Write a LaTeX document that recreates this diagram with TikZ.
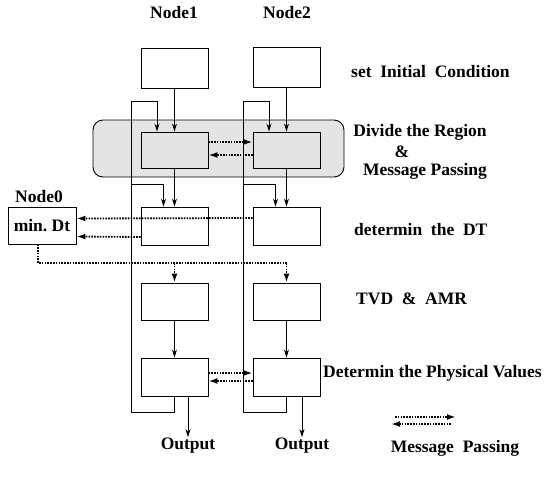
\documentclass[tikz,border=0pt]{standalone}
\usepackage{fontspec}
\setmainfont{Liberation Serif}
\usepackage{xcolor}
\usepackage{tikz}
\usetikzlibrary{arrows.meta, positioning, calc}
\definecolor{cinza}{RGB}{228,228,228}

\begin{document}
\begin{tikzpicture}[x=1pt, y=-1pt,
    caixa/.style={draw=black, fill=white, minimum width=67pt, minimum height=38pt, inner sep=0pt, line width=0.9pt},
    caixaC/.style={caixa, fill=cinza},
    rotulo/.style={font=\bfseries\fontsize{17.5}{20}\selectfont, inner sep=1pt},
    linha/.style={line width=0.9pt, black},
    seta/.style={linha, -{Stealth[length=8pt, width=5pt]}},
    msglinha/.style={line width=1.8pt, black, dash pattern=on 1.6pt off 1.2pt},
    msg/.style={msglinha, -{Latex[length=9pt, width=6pt]}}
  ]
    \useasboundingbox (0,0) rectangle (547,491);
    % regiao sombreada
    \draw[linha, fill=cinza, rounded corners=10pt] (93,120) rectangle (344,177);
    % cabecalhos
    \node[rotulo] (h1) at (174,13) {Node1};
    \node[rotulo] (h2) at (287,13) {Node2};
    % caixas da coluna 1
    \node[caixa, minimum height=40pt] (ini1) at (174.5,68) {};
    \node[caixaC, minimum height=36pt] (div1) at (174.5,150) {};
    \node[caixa] (dt1) at (174.5,226) {};
    \node[caixa, minimum height=37pt] (tvd1) at (174.5,301.5) {};
    \node[caixa] (fis1) at (174.5,377) {};
    % caixas da coluna 2
    \node[caixa, minimum height=40pt] (ini2) at (286.5,67) {};
    \node[caixaC, minimum height=36pt] (div2) at (286.5,150) {};
    \node[caixa] (dt2) at (286.5,226) {};
    \node[caixa, minimum height=37pt] (tvd2) at (286.5,301.5) {};
    \node[caixa] (fis2) at (286.5,377) {};
    % Node0
    \node[caixa, minimum width=68pt, minimum height=37pt, font=\bfseries\fontsize{17.5}{20}\selectfont] (n0) at (42,225.5) {min.~Dt};
    \node[rotulo] (h0) at (39,197) {Node0};
    % textos da direita
    \node[rotulo, anchor=west] (t1) at (350,72) {set\ \ Initial\ \ Condition};
    \node[rotulo] (t2a) at (420,132) {Divide the Region};
    \node[rotulo] (t2b) at (402,152) {\&};
    \node[rotulo] (t2c) at (425,171) {Message Passing};
    \node[rotulo, anchor=west] (t3) at (353,230) {determin\ \ the\ \ DT};
    \node[rotulo, anchor=west] (t4) at (355,299) {TVD\ \ \&\ \ AMR};
    \node[rotulo, anchor=west] (t5) at (322,373) {Determin the Physical Values};
    % saidas
    \node[rotulo] (out1) at (188,446) {Output};
    \node[rotulo] (out2) at (302,446) {Output};
    % fluxo vertical
    \draw[seta] (ini1) -- (div1);
    \draw[seta] (div1) -- (dt1);
    \draw[seta] (tvd1) -- (fis1);
    \draw[seta] (ini2) -- (div2);
    \draw[seta] (div2) -- (dt2);
    \draw[seta] (tvd2) -- (fis2);
    % lacos de volta
    \coordinate (lb1) at (131,412);
    \coordinate (lt1) at (131,101);
    \coordinate (lm1) at (131,184);
    \coordinate (lb2) at (243,412);
    \coordinate (lt2) at (243,101);
    \coordinate (lm2) at (243,184);
    \draw[seta] (fis1.south) |- (lb1) -- (lt1) -| ([xshift=-17.5pt]div1.north);
    \draw[seta] (lm1) -| ([xshift=-11pt]dt1.north);
    \draw[seta] (fis2.south) |- (lb2) -- (lt2) -| ([xshift=-17.5pt]div2.north);
    \draw[seta] (lm2) -| ([xshift=-11pt]dt2.north);
    \draw[seta] ([xshift=13.5pt]fis1.south) -- (out1.north);
    \draw[seta] ([xshift=15.5pt]fis2.south) -- (out2.north);
    % troca de mensagens
    \draw[msg] ([yshift=8pt]div1.east) -- ([yshift=8pt]div2.west);
    \draw[msg] ([yshift=-5pt]div2.west) -- ([yshift=-5pt]div1.east);
    \draw[msg] ([yshift=8pt]dt2.west) -- ([yshift=7pt]n0.east);
    \draw[msg] ([yshift=-11pt]dt1.west) -- ([yshift=-11pt]n0.east);
    \draw[msg] ([yshift=4pt]fis1.east) -- ([yshift=4pt]fis2.west);
    \draw[msg] ([yshift=-4pt]fis2.west) -- ([yshift=-4pt]fis1.east);
    \coordinate (dtj) at (286.5,263);
    \draw[msglinha] ([xshift=-4pt]n0.south) |- (dtj);
    \draw[msg] (dtj) -- (tvd2.north);
    \draw[msg] (tvd1.north |- dtj) -- (tvd1.north);
    % legenda
    \coordinate (la) at (395,417);
    \coordinate (lb) at (456,417);
    \coordinate (lc) at (451,424);
    \coordinate (ld) at (391,424);
    \draw[msg] (la) -- (lb);
    \draw[msg] (lc) -- (ld);
    \node[rotulo] (leg) at (455,448) {Message\ \ Passing};
  \end{tikzpicture}
\end{document}
